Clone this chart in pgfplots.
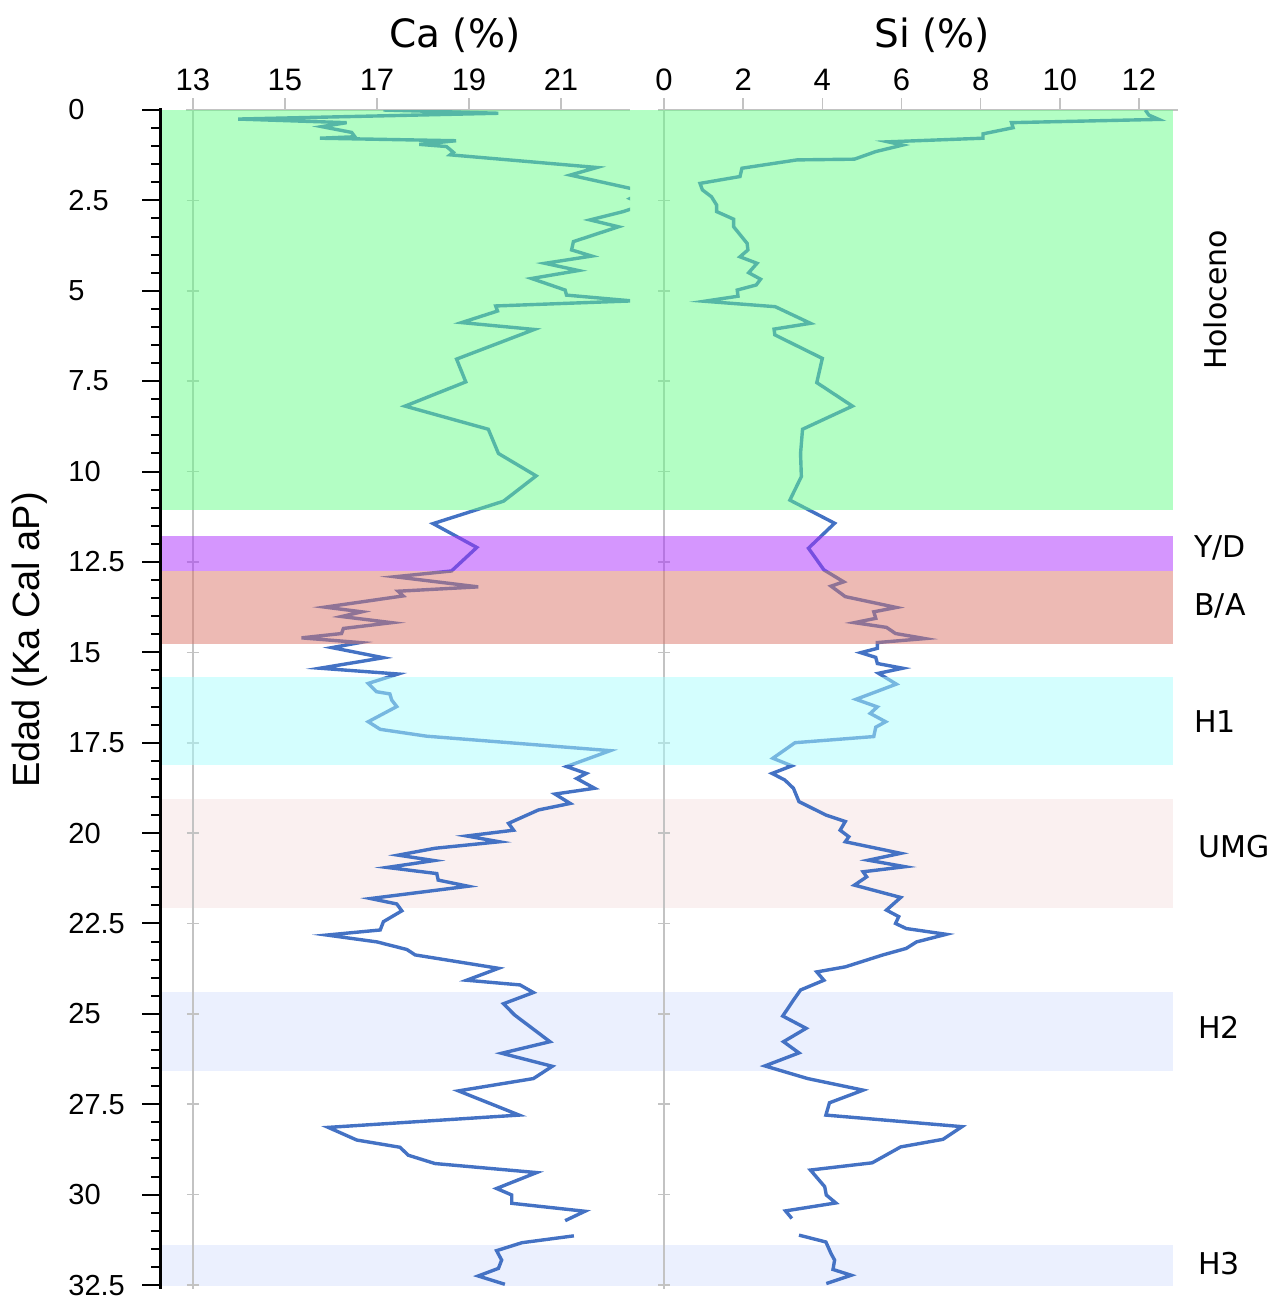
\documentclass[border=0pt]{standalone}
\usepackage{pgfplots}
\pgfplotsset{compat=1.18}
\usepackage{fontspec}
\setmainfont{DejaVu Sans}
\newfontfamily\arial{Liberation Sans}

\definecolor{lineblue}{RGB}{68,114,196}
\definecolor{axgray}{RGB}{195,195,195}
\definecolor{holo}{RGB}{103,253,137}
\definecolor{yd}{RGB}{171,45,253}
\definecolor{ba}{RGB}{219,117,105}
\definecolor{hone}{RGB}{169,253,253}
\definecolor{umg}{RGB}{250,240,240}
\definecolor{hlav}{RGB}{235,240,254}

\begin{document}
\begin{tikzpicture}
\pgfplotsset{
  every axis/.append style={scale only axis, height=587.5pt, ymin=0, ymax=32.5, y dir=reverse,
    anchor=north west},
  toppanel/.style={axis x line*=top, hide y axis, x axis line style={draw=none},
    tick align=outside, major tick length=6pt, xtick style={axgray, line width=0.8pt},
    xticklabel style={font=\arial\fontsize{15.5}{15.5}\selectfont, text=black,
      /pgf/number format/assume math mode=true},
    clip mode=individual},
}

% light bands, below the curves
\begin{axis}[at={(80pt,593.5pt)}, width=506.5pt, xmin=0, xmax=1, hide axis]
\addplot[fill=umg, draw=none] coordinates {(0,19.06) (1,19.06) (1,22.07) (0,22.07)};
\addplot[fill=hlav, draw=none] coordinates {(0,24.40) (1,24.40) (1,26.58) (0,26.58)};
\addplot[fill=hlav, draw=none] coordinates {(0,31.40) (1,31.40) (1,32.60) (0,32.60)};
\end{axis}

% Ca panel
\begin{axis}[at={(80pt,593.5pt)}, width=235pt, xmin=12.283, xmax=22.5, toppanel,
  xtick={13,15,17,19,21}]
\draw[axgray, line width=1pt] (axis cs:12.85,0) -- (axis cs:22.5,0);
\draw[axgray, line width=1pt] (axis cs:13,0) -- (axis cs:13,32.6);
\pgfplotsinvokeforeach{2.5,5,7.5,10,12.5,15,17.5,20,22.5,25,27.5,30,32.5}{
  \draw[axgray, line width=0.8pt] ([xshift=-3pt]axis cs:13,#1) -- ([xshift=3pt]axis cs:13,#1);}
\addplot[lineblue, line width=1.7pt] coordinates {
(17.14,0.00) (19.64,0.09) (13.98,0.25) (16.34,0.35) (15.80,0.46) (16.45,0.62) (16.52,0.74)
(15.76,0.78) (18.72,0.85) (17.92,0.95) (18.51,1.01) (18.66,1.17) (18.59,1.24) (21.78,1.59)
(21.20,1.80) (22.80,2.25) (22.50,2.45) (22.80,2.62) (22.35,2.81) (21.63,3.04) (22.25,3.23)
(21.27,3.64) (21.23,3.87) (21.67,4.04) (20.65,4.24) (21.38,4.44) (20.36,4.66) (21.09,4.98)
(21.12,5.12) (22.54,5.28) (19.58,5.42) (19.62,5.56) (18.84,5.88) (20.42,6.07) (18.73,6.89)
(18.93,7.52) (17.61,8.19) (19.42,8.83) (19.64,9.50) (20.46,10.12) (19.75,10.82) (18.22,11.44)
(19.17,12.10) (18.62,12.75) (17.39,12.91) (19.20,13.19) (17.46,13.31) (17.57,13.44) (15.87,13.75)
(16.67,13.88) (16.23,14.01) (17.32,14.18) (16.27,14.34) (16.23,14.48) (15.36,14.60) (16.63,14.73)
(16.02,14.87) (17.14,15.15) (15.76,15.44) (17.46,15.60) (16.81,15.86) (16.99,16.09) (17.28,16.15)
(17.32,16.32) (17.43,16.50) (16.81,16.92) (17.07,17.13) (18.08,17.32) (22.07,17.72) (21.12,18.16)
(21.55,18.35) (21.34,18.49) (21.73,18.76) (20.87,18.92) (21.20,19.18) (20.51,19.36) (19.86,19.73)
(19.97,19.92) (18.95,20.08) (19.66,20.24) (18.26,20.42) (17.46,20.61) (18.24,20.76) (17.22,20.95)
(18.30,21.12) (18.33,21.30) (18.98,21.47) (16.86,21.81) (17.43,21.96) (17.54,22.15) (17.14,22.45)
(17.07,22.68) (15.91,22.82) (17.00,23.01) (17.65,23.22) (17.83,23.37) (19.64,23.74) (18.95,24.07)
(20.11,24.20) (20.40,24.41) (19.75,24.72) (19.99,25.03) (20.76,25.77) (19.71,26.09) (20.81,26.45)
(20.40,26.79) (18.77,27.13) (20.09,27.80) (15.94,28.14) (16.56,28.49) (17.50,28.69) (17.68,28.91)
(18.26,29.14) (20.47,29.39) (19.60,29.83) (19.93,30.01) (19.93,30.24) (21.52,30.46) (21.09,30.72)};
\addplot[lineblue, line width=1.7pt] coordinates {
(21.28,31.14) (20.15,31.33) (19.60,31.55) (19.71,31.81) (19.64,32.04) (19.20,32.25) (19.78,32.48)};
\end{axis}

% Si panel
\begin{axis}[at={(315pt,593.5pt)}, width=274pt, xmin=-0.859, xmax=12.986, toppanel,
  xtick={0,2,4,6,8,10,12}]
\draw[axgray, line width=1pt] (axis cs:-0.15,0) -- (axis cs:12.986,0);
\draw[axgray, line width=1pt] (axis cs:0,0) -- (axis cs:0,32.6);
\pgfplotsinvokeforeach{2.5,5,7.5,10,12.5,15,17.5,20,22.5,25,27.5,30,32.5}{
  \draw[axgray, line width=0.8pt] ([xshift=-3pt]axis cs:0,#1) -- ([xshift=3pt]axis cs:0,#1);}
\addplot[lineblue, line width=1.7pt] coordinates {
(12.16,0.00) (12.25,0.14) (12.50,0.26) (8.78,0.35) (8.82,0.49) (8.06,0.66) (8.06,0.78)
(5.66,0.88) (6.03,0.97) (5.35,1.15) (4.81,1.36) (3.36,1.38) (1.97,1.61) (1.92,1.84)
(0.91,2.03) (0.97,2.21) (1.20,2.40) (1.33,2.63) (1.33,2.81) (1.76,3.02) (1.76,3.23)
(2.10,3.69) (2.12,3.87) (1.92,4.06) (2.35,4.24) (2.14,4.50) (2.44,4.68) (2.33,4.84)
(1.85,4.98) (1.87,5.15) (1.02,5.29) (2.81,5.44) (3.70,5.90) (2.78,6.06) (2.80,6.22)
(4.00,6.87) (3.86,7.54) (4.76,8.19) (3.50,8.83) (3.45,9.50) (3.47,10.14) (3.18,10.79)
(4.31,11.43) (3.65,12.12) (4.04,12.72) (4.54,13.05) (4.22,13.17) (4.58,13.46) (5.87,13.76)
(5.30,13.88) (5.35,14.06) (4.81,14.18) (5.62,14.31) (5.85,14.48) (6.59,14.62) (5.39,14.73)
(5.39,14.89) (4.97,15.01) (5.35,15.14) (5.39,15.31) (6.03,15.44) (5.42,15.58) (5.87,15.88)
(4.85,16.30) (5.39,16.51) (5.21,16.69) (5.60,16.92) (5.35,17.07) (5.30,17.33) (3.31,17.50)
(2.75,17.93) (3.23,18.14) (2.73,18.35) (3.05,18.53) (3.27,18.76) (3.41,19.13) (4.09,19.50)
(4.58,19.68) (4.45,19.92) (4.67,20.10) (4.58,20.24) (5.98,20.56) (5.16,20.75) (6.09,20.93)
(5.03,21.07) (5.12,21.21) (4.81,21.44) (5.98,21.78) (5.62,22.13) (5.93,22.31) (5.85,22.50)
(6.12,22.64) (7.13,22.80) (6.38,23.01) (6.12,23.19) (5.53,23.37) (4.58,23.70) (3.86,23.84)
(4.04,24.07) (3.45,24.34) (3.27,24.62) (3.00,25.06) (3.59,25.40) (3.02,25.77) (3.41,26.08)
(2.55,26.44) (3.63,26.79) (5.03,27.11) (4.18,27.46) (4.09,27.80) (7.53,28.12) (7.05,28.47)
(5.98,28.68) (5.26,29.12) (3.70,29.32) (4.06,29.78) (4.10,30.01) (4.34,30.23) (3.07,30.45)
(3.23,30.66)};
\addplot[lineblue, line width=1.7pt] coordinates {
(3.41,31.12) (4.09,31.31) (4.22,31.63) (4.31,31.81) (4.27,32.07) (4.73,32.23) (4.10,32.46)};
\end{axis}

% strong bands over the curves, and the age axis
\begin{axis}[at={(80pt,593.5pt)}, width=506.5pt, xmin=0, xmax=1, axis on top,
  hide x axis, axis y line*=left,
  y axis line style={line width=1.5pt, black, shorten <=-1pt, shorten >=-2pt},
  ytick={0,2.5,5,7.5,10,12.5,15,17.5,20,22.5,25,27.5,30,32.5}, minor y tick num=4,
  tick align=outside, major tick length=9pt, minor tick length=4.5pt,
  ytick style={black, line width=1pt},
  yticklabel style={font=\arial\fontsize{14.5}{14.5}\selectfont, anchor=west, inner sep=0pt,
    xshift=-37pt, /pgf/number format/assume math mode=true,
    /pgf/number format/fixed}]
\addplot[fill=holo, fill opacity=0.5, draw=none] coordinates {(0,-0.2) (1,-0.2) (1,11.06) (0,11.06)};
\addplot[fill=yd, fill opacity=0.5, draw=none] coordinates {(0,11.78) (1,11.78) (1,12.75) (0,12.75)};
\addplot[fill=ba, fill opacity=0.5, draw=none] coordinates {(0,12.75) (1,12.75) (1,14.77) (0,14.77)};
\addplot[fill=hone, fill opacity=0.5, draw=none] coordinates {(0,15.68) (1,15.68) (1,18.12) (0,18.12)};
\end{axis}

\node[rotate=90, font=\arial\fontsize{19}{19}\selectfont] at (15pt,328.5pt) {Edad (Ka Cal aP)};
\node[font=\fontsize{19.5}{19.5}\selectfont] at (227.5pt,631pt) {Ca (\%)};
\node[font=\fontsize{19.5}{19.5}\selectfont] at (466pt,631pt) {Si (\%)};
\begin{scope}[every node/.style={font=\fontsize{15}{15}\selectfont, inner sep=0pt}]
\node[rotate=90] at (607.5pt,498.5pt) {Holoceno};
\node[anchor=west] at (597pt,374.5pt) {Y/D};
\node[anchor=west] at (597pt,345.5pt) {B/A};
\node[anchor=west] at (597pt,287.5pt) {H1};
\node[anchor=west] at (599pt,225pt) {UMG};
\node[anchor=west] at (599pt,135pt) {H2};
\node[anchor=west] at (599pt,16.5pt) {H3};
\end{scope}

\pgfresetboundingbox
\path[use as bounding box] (0,0) rectangle (636.5pt,648.5pt);
\end{tikzpicture}
\end{document}
